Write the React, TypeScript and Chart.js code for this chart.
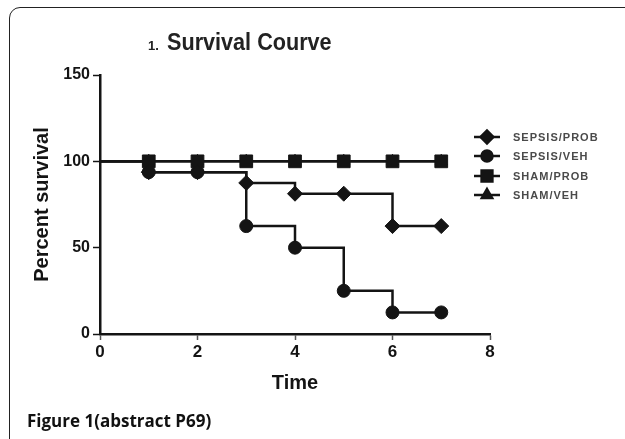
import React, { useEffect, useRef } from "react";
import { Chart, registerables } from "chart.js";
import { drawPoint } from "chart.js/helpers";

Chart.register(...registerables);

const times = [0, 1, 2, 3, 4, 5, 6, 7];
const seriesNames = ["SEPSIS/PROB", "SEPSIS/VEH", "SHAM/PROB", "SHAM/VEH"];
const sepsisProb = [100, 93.75, 93.75, 87.5, 81.25, 81.25, 62.5, 62.5];
const sepsisVeh = [100, 93.75, 93.75, 62.5, 50, 25, 12.5, 12.5];
const shamProb = [100, 100, 100, 100, 100, 100, 100, 100];
const shamVeh = [100, 100, 100, 100, 100, 100, 100, 100];
const pointStyles = ["rectRot", "circle", "rect", "triangle"];
const pointSizes = [7.5, 6.5, 9, 7];
const yTicks = [0, 50, 100, 150];
const xTicks = [0, 2, 4, 6, 8];

const INK = "#141414";

const overlayPlugin = {
  id: "overlay",
  afterDraw(chart: any) {
    const ctx = chart.ctx;
    const area = chart.chartArea;
    ctx.save();
    // Title
    ctx.fillStyle = "#222";
    ctx.textBaseline = "alphabetic";
    ctx.textAlign = "left";
    ctx.font = 'bold 13px "Liberation Sans"';
    ctx.fillText("1.", 148, 50);
    ctx.save();
    ctx.translate(167, 50);
    ctx.scale(0.94, 1);
    ctx.font = 'bold 23px "Liberation Sans"';
    ctx.fillText("Survival Courve", 0, 0);
    ctx.restore();

    // Legend
    const rowOffsets = [62, 81, 101, 120];
    const mx = area.right - 3;
    chart.data.datasets.forEach((ds: any, i: number) => {
      const y = area.top + rowOffsets[i];
      ctx.strokeStyle = INK;
      ctx.lineWidth = 2.5;
      ctx.beginPath();
      ctx.moveTo(mx - 13, y);
      ctx.lineTo(mx + 13, y);
      ctx.stroke();
      ctx.fillStyle = INK;
      drawPoint(ctx, { pointStyle: ds.pointStyle, radius: pointSizes[i] * 0.85, rotation: 0, borderWidth: 1 }, mx, y);
      ctx.fill();
      ctx.fillStyle = "#4a4a4a";
      ctx.font = 'bold 11px "Liberation Sans"';
      (ctx as any).letterSpacing = "1px";
      ctx.textBaseline = "middle";
      ctx.fillText(seriesNames[i], mx + 26, y + 1);
      (ctx as any).letterSpacing = "0px";
    });
    ctx.restore();
  },
};

export default function App() {
  const ref = useRef<HTMLCanvasElement | null>(null);

  useEffect(() => {
    if (!ref.current) return;
    const all = [sepsisProb, sepsisVeh, shamProb, shamVeh];
    const datasets = all.map((vals, i) => ({
      label: seriesNames[i],
      data: times.map((t, j) => ({ x: t, y: vals[j] })),
      stepped: "before" as const,
      borderColor: INK,
      borderWidth: 2.5,
      backgroundColor: INK,
      pointBackgroundColor: INK,
      pointBorderColor: INK,
      pointBorderWidth: 1,
      pointStyle: pointStyles[i],
      pointRadius: times.map((t) => (t === 0 ? 0 : pointSizes[i])),
      fill: false,
    }));
    const chart = new Chart(ref.current, {
      type: "line",
      data: { datasets },
      plugins: [overlayPlugin],
      options: {
        animation: false,
        responsive: true,
        maintainAspectRatio: false,
        layout: { padding: { top: 75, right: 135, bottom: 39, left: 0 } },
        plugins: { legend: { display: false }, tooltip: { enabled: false }, title: { display: false } },
        scales: {
          x: {
            type: "linear",
            min: 0,
            max: 8,
            afterBuildTicks: (s: any) => {
              s.ticks = xTicks.map((v) => ({ value: v }));
            },
            afterFit: (s: any) => {
              s.height = 66;
            },
            ticks: {
              color: INK,
              font: { family: "Liberation Sans", size: 17, weight: "bold" },
              padding: 2,
              maxRotation: 0,
            },
            grid: { display: true, drawOnChartArea: false, drawTicks: true, tickLength: 6, tickColor: "#555", tickWidth: 1.5 },
            border: { display: true, color: INK, width: 2.5 },
            title: {
              display: true,
              text: "Time",
              color: INK,
              font: { family: "Liberation Sans", size: 20, weight: "bold" },
              padding: { top: 0, bottom: 5 },
            },
          },
          y: {
            type: "linear",
            min: 0,
            max: 150,
            afterBuildTicks: (s: any) => {
              s.ticks = yTicks.map((v) => ({ value: v }));
            },
            afterFit: (s: any) => {
              s.width = 100;
            },
            ticks: {
              color: INK,
              font: { family: "Liberation Sans", size: 16, weight: "bold" },
              padding: 3,
            },
            grid: { display: true, drawOnChartArea: false, drawTicks: true, tickLength: 7, tickColor: INK, tickWidth: 1.5 },
            border: { display: true, color: INK, width: 2.5 },
            title: {
              display: true,
              text: "Percent survival",
              color: INK,
              font: { family: "Liberation Sans", size: 20, weight: "bold" },
              padding: { top: 30, bottom: 0 },
            },
          },
        },
      },
    });
    return () => chart.destroy();
  }, []);

  return (
    <div style={{ position: "fixed", left: 0, top: 0, width: 625, height: 439, overflow: "hidden", background: "#fff" }}>
      <div style={{ position: "absolute", left: 0, top: 0, width: 625, height: 439 }}>
        <canvas ref={ref} />
      </div>
      <div
        style={{
          position: "absolute",
          left: 9,
          top: 7,
          width: 700,
          height: 520,
          border: "1.5px solid #222",
          borderRadius: 11,
          pointerEvents: "none",
        }}
      />
      <div
        style={{
          position: "absolute",
          left: 27,
          top: 409,
          fontFamily: '"Open Sans", sans-serif',
          fontWeight: 700,
          fontSize: 17,
          lineHeight: "24px",
          color: "#111",
          whiteSpace: "nowrap",
        }}
      >
        Figure 1(abstract P69)
      </div>
    </div>
  );
}
